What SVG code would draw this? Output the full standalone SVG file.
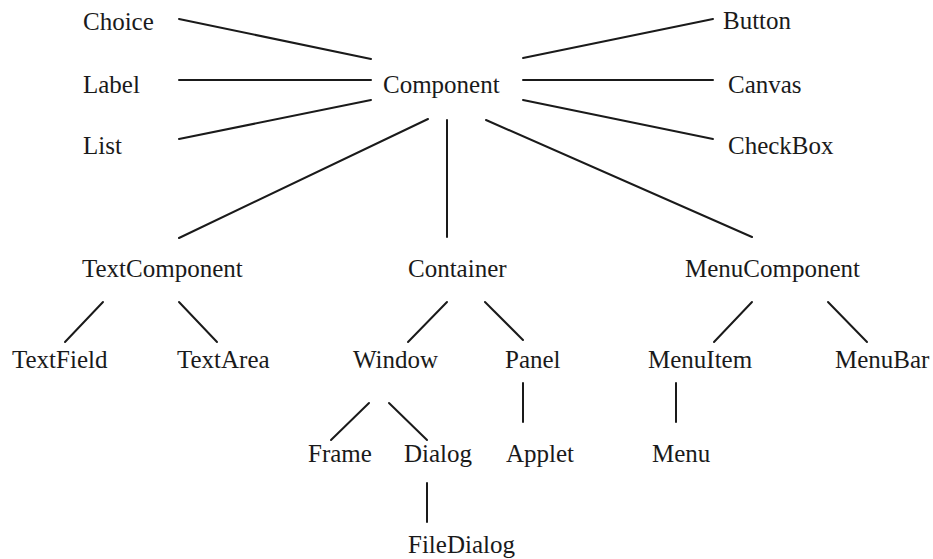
<svg xmlns="http://www.w3.org/2000/svg" width="933" height="559" viewBox="0 0 933 559">
<style>
text{font-family:"Liberation Serif","Times New Roman",serif;font-size:25px;fill:#1a1a1a}
.c line{stroke:#1a1a1a;stroke-width:2;stroke-linecap:round}
</style>
<rect width="933" height="559" fill="#fff"/>
<g class="c" id="connectors">
<line x1="179" y1="19" x2="371" y2="59"/>
<line x1="179" y1="80" x2="371" y2="80"/>
<line x1="179" y1="139" x2="371" y2="100"/>
<line x1="523" y1="58" x2="713" y2="19"/>
<line x1="523" y1="80" x2="713" y2="80"/>
<line x1="523" y1="100" x2="713" y2="139"/>
<line x1="428" y1="119" x2="179" y2="238"/>
<line x1="447" y1="120" x2="447" y2="237"/>
<line x1="486" y1="120" x2="752" y2="237"/>
<line x1="103" y1="302" x2="65" y2="342"/>
<line x1="179" y1="302" x2="217" y2="342"/>
<line x1="447" y1="302" x2="408" y2="342"/>
<line x1="485" y1="302" x2="523" y2="340"/>
<line x1="752" y1="302" x2="714" y2="342"/>
<line x1="828" y1="302" x2="867" y2="342"/>
<line x1="369" y1="403" x2="331" y2="440"/>
<line x1="389" y1="403" x2="427" y2="440"/>
<line x1="523" y1="383" x2="523" y2="422"/>
<line x1="676" y1="383" x2="676" y2="422"/>
<line x1="427" y1="483" x2="427" y2="522"/>
</g>
<g id="Choice"><text x="83" y="30">Choice</text></g>
<g id="Label"><text x="83" y="93">Label</text></g>
<g id="List"><text x="83" y="154">List</text></g>
<g id="Component"><text x="383" y="93">Component</text></g>
<g id="Button"><text x="723" y="29">Button</text></g>
<g id="Canvas"><text x="728" y="93">Canvas</text></g>
<g id="CheckBox"><text x="728" y="154">CheckBox</text></g>
<g id="TextComponent"><text x="82" y="277">TextComponent</text></g>
<g id="Container"><text x="408" y="277">Container</text></g>
<g id="MenuComponent"><text x="685" y="277">MenuComponent</text></g>
<g id="TextField"><text x="12" y="368">TextField</text></g>
<g id="TextArea"><text x="177" y="368">TextArea</text></g>
<g id="Window"><text x="353" y="368">Window</text></g>
<g id="Panel"><text x="505" y="368">Panel</text></g>
<g id="MenuItem"><text x="648" y="368">MenuItem</text></g>
<g id="MenuBar"><text x="835" y="368">MenuBar</text></g>
<g id="Frame"><text x="308" y="462">Frame</text></g>
<g id="Dialog"><text x="404" y="462">Dialog</text></g>
<g id="Applet"><text x="506" y="462">Applet</text></g>
<g id="Menu"><text x="652" y="462">Menu</text></g>
<g id="FileDialog"><text x="408" y="553">FileDialog</text></g>
</svg>
